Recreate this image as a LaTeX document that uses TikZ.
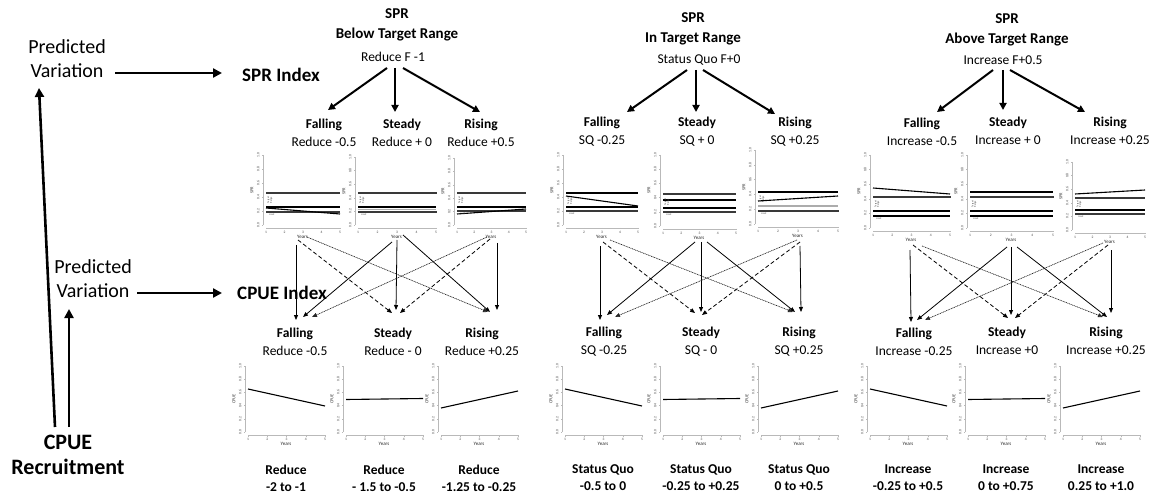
\documentclass[tikz,border=0pt]{standalone}
\usepackage{fontspec}
\setmainfont{Carlito}
\usetikzlibrary{arrows.meta}

\newcommand\plotframe[6]{%
  \pgfmathsetmacro\xa{#2+3}%
  \pgfmathsetmacro\xb{#5-2}%
  \pgfmathsetmacro\xm{(#2+#5)/2}%
  \pgfmathsetmacro\ym{(#3+#4)/2}%
  \pgfmathsetmacro\yx{#4+3}%
  \draw[axisl] (#2,#3) -- (#2,#4);
  \foreach \k/\l in {0/0.0,1/0.2,2/0.4,3/0.6,4/0.8,5/1.0}{%
    \pgfmathsetmacro\yy{#4-(#4-#3)*\k/5}%
    \draw[axisl] (#2,\yy) -- ++(-1.5,0);
    \node[tick,rotate=90] at ({#2-4.8},\yy) {\l};
  }
  \draw[axisl] (\xa,\yx) -- (\xb,\yx);
  \foreach \k in {1,...,5}{%
    \pgfmathsetmacro\xx{\xa+(\xb-\xa)*(\k-1)/4}%
    \draw[axisl] (\xx,\yx) -- ++(0,1.5);
    \node[tick] at (\xx,{\yx+4.3}) {\k};
  }
  \node[axl,rotate=90] at ({#2-11},\ym) {#6};
  \node[yrs] (#1) at (\xm,{#4+12}) {Years};
}
\newcommand\trl[2]{%
  \node[tinyt,rotate=90] at ({\xa+4},#1) {Target\\Range};
  \node[tinyt] at ({\xa+6},{#2+2.5}) {Limit};
}

\begin{document}
\begin{tikzpicture}[x=1pt,y=-1pt,
  axisl/.style={draw=gray!55, line width=0.35pt},
  tick/.style={font=\fontsize{3.6}{4}\selectfont, text=gray!55!black, inner sep=0pt},
  axl/.style={font=\fontsize{4.5}{5}\selectfont, text=gray!45!black, inner sep=0pt},
  yrs/.style={font=\fontsize{5}{5.5}\selectfont, text=black!85, inner sep=0.5pt},
  tinyt/.style={font=\fontsize{2.5}{2.7}\selectfont, text=gray!50!black, inner sep=0pt, align=center},
  dotl/.style={line width=1.4pt, gray!45!black, dash pattern=on 0.5pt off 0.45pt},
  soll/.style={line width=1.1pt, black},
  grayl/.style={line width=1.1pt, gray!65},
  traj/.style={line width=1.1pt, black},
  big/.style={line width=2.6pt, -{Triangle[length=9pt,width=9pt]}},
  harr/.style={line width=2pt, -{Triangle[length=7pt,width=7pt]}},
  conn/.style={line width=0.8pt, -{Triangle[length=5pt,width=4pt]}},
  cdash/.style={conn, dash pattern=on 4pt off 2.5pt},
  cdot/.style={conn, line width=0.7pt, dash pattern=on 0.8pt off 0.9pt, draw=gray!30!black, fill=gray!30!black},
  pv/.style={font=\fontsize{20}{24}\selectfont, align=center},
  idx/.style={font=\bfseries\fontsize{19}{22}\selectfont},
  hdr/.style={font=\bfseries\fontsize{15}{20}\selectfont, align=center},
  hsub/.style={font=\fontsize{13.5}{16}\selectfont},
  lab/.style={font=\fontsize{13.5}{18}\selectfont, align=center},
  blab/.style={font=\bfseries\fontsize{13.5}{17}\selectfont, align=center},
  cr/.style={font=\bfseries\fontsize{22}{25}\selectfont, align=center}
]
\useasboundingbox (0,0) rectangle (1158,494);

% ---------- left side ----------
\node[pv] (pv1) at (67,59) {Predicted\\Variation};
\node[idx] (spri) at (281,75) {SPR Index};
\coordinate (pa1) at (115,73); \coordinate (pa2) at (222,73);
\draw[big] (pa1) -- (pa2);

\node[pv] (pv2) at (93,279) {Predicted\\Variation};
\node[idx] (cpuei) at (282,293) {CPUE Index};
\coordinate (pb1) at (137,293); \coordinate (pb2) at (222,293);
\draw[big] (pb1) -- (pb2);

\node[cr] (rec) at (68,455) {CPUE\\Recruitment};
\coordinate (l1) at (55,427); \coordinate (l1e) at (39,88);
\draw[big] (l1) -- (l1e);
\coordinate (l2) at (69,427); \coordinate (l2e) at (69,309);
\draw[big] (l2) -- (l2e);

% ---------- headers ----------
\node[hdr] (h1) at (397,25) {SPR\\Below Target Range};
\node[hsub] (h1s) at (393,57) {Reduce F -1};
\node[hdr] (h2) at (693,29) {SPR\\In Target Range};
\node[hsub] (h2s) at (699,60) {Status Quo F+0};
\node[hdr] (h3) at (1007,30) {SPR\\Above Target Range};
\node[hsub] (h3s) at (1003,60) {Increase F+0.5};

\foreach \n/\sx/\sy/\ex/\ey in {h1a/387/68/328/110, h1b/395/68/395/112, h1c/403/68/480/112,
  h2a/687/70/627/112, h2b/696/70/696/112, h2c/703/70/775/114,
  h3a/993/70/937/112, h3b/1003/70/1003/110, h3c/1010/70/1085/112}{
  \coordinate (s\n) at (\sx,\sy); \coordinate (e\n) at (\ex,\ey);
  \draw[harr] (s\n) -- (e\n);
}

% ---------- SPR trend labels ----------
\node[lab] (t11) at (324,133) {\textbf{Falling}\\Reduce -0.5};
\node[lab] (t12) at (402,133) {\textbf{Steady}\\Reduce + 0};
\node[lab] (t13) at (481,133) {\textbf{Rising}\\Reduce +0.5};
\node[lab] (t21) at (602,132) {\textbf{Falling}\\SQ -0.25};
\node[lab] (t22) at (697,132) {\textbf{Steady}\\SQ + 0};
\node[lab] (t23) at (795,132) {\textbf{Rising}\\SQ +0.25};
\node[lab] (t31) at (922,132) {\textbf{Falling}\\Increase -0.5};
\node[lab] (t32) at (1008,131) {\textbf{Steady}\\Increase + 0};
\node[lab] (t33) at (1110,131) {\textbf{Rising}\\Increase +0.25};

% ---------- SPR plots ----------
\plotframe{y11}{263}{155}{225}{342}{SPR}
\draw[dotl] (\xa,193) -- (\xb,193); \draw[soll] (\xa,207) -- (\xb,207); \draw[dotl] (\xa,212) -- (\xb,212);
\draw[traj] (\xa,208) -- (\xb,214); \trl{200}{212}
\plotframe{y12}{355}{157}{225}{438}{SPR}
\draw[dotl] (\xa,193) -- (\xb,193); \draw[soll] (\xa,207) -- (\xb,207); \draw[grayl] (\xa,209.5) -- (\xb,209.5); \draw[dotl] (\xa,212) -- (\xb,212);
\trl{200}{212}
\plotframe{y13}{454}{158}{225}{528}{SPR}
\draw[dotl] (\xa,193) -- (\xb,193); \draw[soll] (\xa,207) -- (\xb,207); \draw[dotl] (\xa,211) -- (\xb,211);
\draw[traj] (\xa,214) -- (\xb,209); \trl{200}{211}

\plotframe{y21}{563}{155}{225}{640}{SPR}
\draw[soll] (\xa,193) -- (\xb,193); \draw[soll] (\xa,207) -- (\xb,207); \draw[dotl] (\xa,211) -- (\xb,211);
\draw[traj] (\xa,196) -- (\xb,206); \trl{201}{211}
\plotframe{y22}{660}{155}{226}{738}{SPR}
\draw[dotl] (\xa,194) -- (\xb,194); \draw[traj] (\xa,200) -- (\xb,200); \draw[soll] (\xa,208) -- (\xb,208); \draw[dotl] (\xa,212) -- (\xb,212);
\trl{202}{212}
\plotframe{y23}{755}{150}{224}{840}{SPR}
\draw[soll] (\xa,192) -- (\xb,192); \draw[grayl] (\xa,206) -- (\xb,206); \draw[dotl] (\xa,211) -- (\xb,211);
\draw[traj] (\xa,201) -- (\xb,196); \trl{199}{211}

\plotframe{y31}{870}{155}{228}{952}{SPR}
\draw[dotl] (\xa,197) -- (\xb,197); \draw[soll] (\xa,211) -- (\xb,211); \draw[soll] (\xa,216) -- (\xb,216);
\draw[traj] (\xa,188) -- (\xb,194); \trl{204}{216}
\plotframe{y32}{967}{155}{228}{1055}{SPR}
\draw[traj] (\xa,192) -- (\xb,192); \draw[dotl] (\xa,197) -- (\xb,197); \draw[soll] (\xa,211) -- (\xb,211); \draw[soll] (\xa,216) -- (\xb,216);
\trl{204}{216}
\plotframe{y33}{1072}{162}{230}{1147}{SPR}
\draw[dotl] (\xa,198) -- (\xb,198); \draw[soll] (\xa,210) -- (\xb,210); \draw[dotl] (\xa,214) -- (\xb,214);
\draw[traj] (\xa,194) -- (\xb,190); \trl{204}{214}

% ---------- connectors ----------
\foreach \n/\sx/\sy/\ex/\ey in {g1a/296/245/296/320, g1d/392/242/303/317, g1e/397/240/396/310, g1f/403/235/490/312, g1i/497/243/497/310,
  g2a/600/246/600/320, g2d/695/242/607/315, g2e/701/242/701/312, g2f/707/242/795/312, g2i/800/246/801/312,
  g3a/910/250/911/322, g3d/1007/247/917/320, g3e/1011/247/1011/315, g3f/1017/247/1107/317, g3i/1111/250/1111/313}{
  \coordinate (s\n) at (\sx,\sy); \coordinate (e\n) at (\ex,\ey);
  \draw[conn] (s\n) -- (e\n);
}
\foreach \n/\sx/\sy/\ex/\ey in {g1b/298/240/392/313, g1h/490/239/400/313, g2b/603/242/695/313, g2h/800/242/702/315, g3b/913/245/1008/318, g3h/1108/245/1015/318}{
  \coordinate (s\n) at (\sx,\sy); \coordinate (e\n) at (\ex,\ey);
  \draw[cdash] (s\n) -- (e\n);
}
\foreach \n/\sx/\sy/\ex/\ey in {g1c/307/237/488/312, g1g/487/237/312/317, g2c/610/240/793/312, g2g/797/240/615/317, g3c/922/246/1103/317, g3g/1103/243/925/320}{
  \coordinate (s\n) at (\sx,\sy); \coordinate (e\n) at (\ex,\ey);
  \draw[cdot] (s\n) -- (e\n);
}

% ---------- CPUE labels ----------
\node[lab] (c11) at (295,342) {\textbf{Falling}\\Reduce -0.5};
\node[lab] (c12) at (393,342) {\textbf{Steady}\\Reduce - 0};
\node[lab] (c13) at (482,342) {\textbf{Rising}\\Reduce +0.25};
\node[lab] (c21) at (604,342) {\textbf{Falling}\\SQ -0.25};
\node[lab] (c22) at (701,342) {\textbf{Steady}\\SQ - 0};
\node[lab] (c23) at (799,342) {\textbf{Rising}\\SQ +0.25};
\node[lab] (c31) at (914,342) {\textbf{Falling}\\Increase -0.25};
\node[lab] (c32) at (1007,341) {\textbf{Steady}\\Increase +0};
\node[lab] (c33) at (1106,341) {\textbf{Rising}\\Increase +0.25};

% ---------- CPUE plots ----------
\foreach \ax/\nm in {245/z11, 562/z21, 867/z31}{
  \pgfmathsetmacro\rr{\ax+82}
  \plotframe{\nm}{\ax}{366}{432}{\rr}{CPUE}
  \draw[traj] (\xa,389) -- (\xb,406);
}
\foreach \ax/\nm in {343/z12, 660/z22, 965/z32}{
  \pgfmathsetmacro\rr{\ax+82}
  \plotframe{\nm}{\ax}{366}{432}{\rr}{CPUE}
  \draw[traj] (\xa,399.5) -- (\xb,398.5);
}
\foreach \ax/\nm in {438/z13, 758/z23, 1060/z33}{
  \pgfmathsetmacro\rr{\ax+82}
  \plotframe{\nm}{\ax}{366}{432}{\rr}{CPUE}
  \draw[traj] (\xa,408) -- (\xb,391);
}

% ---------- bottom labels ----------
\node[blab] (b11) at (286,478) {Reduce\\-2 to -1};
\node[blab] (b12) at (384,478) {Reduce\\- 1.5 to -0.5};
\node[blab] (b13) at (479,478) {Reduce\\-1.25 to -0.25};
\node[blab] (b21) at (603,478) {Status Quo\\-0.5 to 0};
\node[blab] (b22) at (701,478) {Status Quo\\-0.25 to +0.25};
\node[blab] (b23) at (799,478) {Status Quo\\0 to +0.5};
\node[blab] (b31) at (908,478) {Increase\\-0.25 to +0.5};
\node[blab] (b32) at (1006,478) {Increase\\0 to +0.75};
\node[blab] (b33) at (1101,478) {Increase\\0.25 to +1.0};
\end{tikzpicture}
\end{document}
